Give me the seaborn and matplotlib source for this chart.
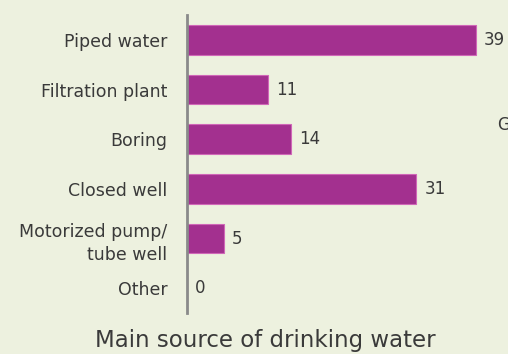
import matplotlib
matplotlib.use("Agg")
import matplotlib.pyplot as plt
import seaborn as sns
import pandas as pd

# Main source of drinking water (counts)
sources = ["Piped water", "Filtration plant", "Boring", "Closed well",
           "Motorized pump/\ntube well", "Other"]
counts = [39, 11, 14, 31, 5, 0]

bg = "#EDF1DF"
bar_col = "#A3308F"
txt_col = "#3A3A3A"

sns.set_theme(style="white")
plt.rcParams['font.family'] = ['DejaVu Sans']

df = pd.DataFrame({"source": sources, "count": counts})

fig = plt.figure(figsize=(5.08, 3.54), dpi=100, facecolor=bg)
ax = fig.add_axes([187 / 508, 1 - 313 / 354, 321 / 508, 298 / 354])
ax.set_facecolor(bg)

sns.barplot(data=df, x="count", y="source", orient="h", color=bar_col,
            width=0.6, saturation=1, edgecolor="#D067B8", linewidth=0.8,
            ax=ax)

ax.set_xlim(0, 321 / 7.4)
ax.set_ylim(5.5, -0.5)

for i, v in enumerate(counts):
    ax.text(v + 1.1, i, str(v), va="center", ha="left", fontsize=12,
            color=txt_col)

ax.set_xlabel("")
ax.set_ylabel("")
ax.set_xticks([])
ax.tick_params(axis="y", length=0, pad=14, labelsize=12.5,
               labelcolor=txt_col)
for lbl in ax.get_yticklabels():
    lbl.set_horizontalalignment("right")
    lbl.set_multialignment("right")
    lbl.set_linespacing(1.4)

for s in ["top", "right", "bottom"]:
    ax.spines[s].set_visible(False)
ax.spines["left"].set_color("#8A8A8A")
ax.spines["left"].set_linewidth(2)

fig.text(265 / 508, 1 - 340 / 354, "Main source of drinking water",
         ha="center", va="center", fontsize=16.5, color=txt_col)
fig.text(497 / 508, 1 - 125 / 354, "G", ha="left", va="center",
         fontsize=12, color=txt_col)

fig.savefig("out.png", dpi=100, facecolor=bg)
